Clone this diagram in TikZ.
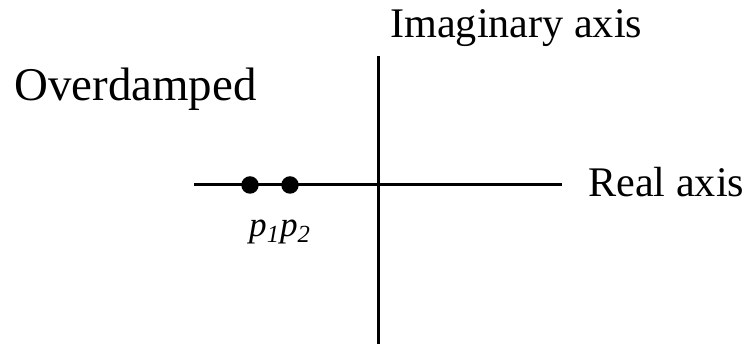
\documentclass[tikz,border=0pt]{standalone}
\usepackage{fontspec}
\setmainfont{Liberation Serif}
\usetikzlibrary{positioning}

\begin{document}
\begin{tikzpicture}[
  axis/.style={line width=1.7pt},
  pole/.style={circle, fill=black, inner sep=0pt, minimum size=0.35cm},
  label/.style={inner sep=0pt, anchor=base west, font=\fontsize{24}{28}\selectfont}
]
\useasboundingbox (0,0) rectangle (14.98,6.88);

% Axes
\coordinate (reL) at (3.88,3.18);
\coordinate (reR) at (11.24,3.18);
\coordinate (imT) at (7.57,5.76);
\coordinate (imB) at (7.57,0);
\draw[axis] (reL) -- (reR);
\draw[axis] (imB) -- (imT);

% Poles
\node[pole] (p1) at (5.0,3.18) {};
\node[pole] (p2) at (5.8,3.18) {};
\node[inner sep=0pt, anchor=base, font=\fontsize{20}{24}\selectfont] (plab) at (5.6,2.14)
  {\textit{p\textsubscript{1}p\textsubscript{2}}};

% Labels
\node[label] (imlab) at (7.8,6.12) {Imaginary axis};
\node[label] (relab) at (11.76,2.94) {Real axis};
\node[label, font=\fontsize{26.7}{30}\selectfont] (title) at (0.28,4.86) {Overdamped};

\end{tikzpicture}
\end{document}
